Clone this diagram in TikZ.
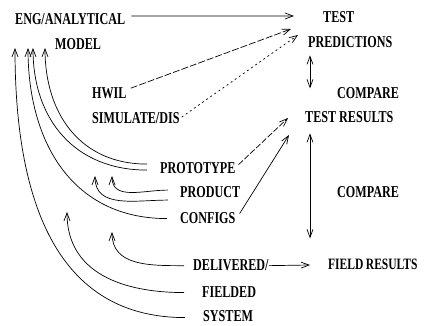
\documentclass[tikz,border=0pt]{standalone}
\usepackage{fontspec}
\setmainfont{Liberation Serif}[FakeStretch=0.73]
\usepackage{tikz}
\usetikzlibrary{arrows.meta}
\tikzstyle{arrow} = [line width=0.7pt,->,>={Straight Barb[length=8pt,width=6pt]}]
\tikzstyle{curvearrow} = [arrow, out=180, in=-90, looseness=1.1]
\tikzstyle{lbl} = [inner sep=0pt, anchor=base west, font=\fontsize{16.6}{18}\selectfont\bfseries]

\begin{document}
\begin{tikzpicture}[x=1pt,y=1pt]
\useasboundingbox (0,0) rectangle (424,326);

% Model and prediction side
\node[lbl] at (15,301) (eng) {ENG/ANALYTICAL};
\node[lbl] at (55,276) (model) {MODEL};
\node[lbl] at (323,303) (test) {TEST};
\node[lbl] at (308,278) (pred) {PREDICTIONS};
\node[lbl] at (92,227) (hwil) {HWIL};
\node[lbl] at (92,202) (sim) {SIMULATE/DIS};
\node[lbl] at (337,227) (cmpA) {COMPARE};
\node[lbl] at (305,203) (res) {TEST RESULTS};

% Hardware side
\node[lbl] at (160,152) (proto) {PROTOTYPE};
\node[lbl] at (180,128) (prod) {PRODUCT};
\node[lbl] at (180,102) (conf) {CONFIGS};
\node[lbl] at (337,128) (cmpB) {COMPARE};
\node[lbl] at (193,55) (deliv) {DELIVERED/};
\node[lbl, font=\fontsize{15.8}{18}\selectfont\bfseries] at (328,56) (field) {FIELD\hspace{2.5pt}RESULTS};
\node[lbl] at (202,28) (fielded) {FIELDED};
\node[lbl] at (203,4) (system) {SYSTEM};

% Arrow ends
\coordinate (tSys) at (15,278);
\coordinate (tConf) at (28,278);
\coordinate (tProA) at (33,278);
\coordinate (tProB) at (45,278);
\coordinate (tProdA) at (95,150);
\coordinate (tProdB) at (112,150);
\coordinate (tFld) at (67,114);
\coordinate (tDel) at (112,94);
\coordinate (pA) at (294,310);
\coordinate (pB) at (291,297);
\coordinate (pC) at (298,291);
\coordinate (pD) at (288,208);
\coordinate (pE) at (289,191);
\coordinate (pF) at (310,61);

% Straight arrows
\draw[arrow] ([xshift=6pt,yshift=3.5pt]eng.east) -- (pA);
\draw[arrow, dash pattern=on 7pt off 2pt] ([xshift=4pt,yshift=5.5pt]hwil.east) -- (pB);
\draw[arrow, dash pattern=on 2pt off 3pt] ([xshift=2pt,yshift=1.5pt]sim.east) -- (pC);
\draw[arrow, dash pattern=on 6pt off 2pt] ([xshift=3pt,yshift=4pt]proto.east) -- (pD);
\draw[arrow] ([xshift=4pt,yshift=5pt]conf.east) -- (pE);
\draw[arrow] (deliv.east) -- (pF);

% Compare arrows
\draw[arrow,<->] ([xshift=2pt,yshift=-7pt]pred.south west) -- ([xshift=2pt,yshift=-40pt]pred.south west);
\draw[arrow,<->] ([xshift=5pt,yshift=-10pt]res.south west) -- ([xshift=5pt,yshift=-115pt]res.south west);

% Feedback curves
\draw[curvearrow] ([xshift=-18pt,yshift=-1pt]system.west) to (tSys);
\draw[curvearrow] ([xshift=-13pt]conf.west) to (tConf);
\draw[curvearrow] ([xshift=-13pt,yshift=-1.5pt]proto.west) to (tProA);
\draw[curvearrow] ([xshift=-13pt,yshift=4.5pt]proto.west) to (tProB);
\draw[curvearrow] ([xshift=-12pt,yshift=-7.5pt]prod.west) to (tProdA);
\draw[curvearrow] ([xshift=-12pt,yshift=2.5pt]prod.west) to (tProdB);
\draw[curvearrow] ([xshift=-18pt]fielded.west) to (tFld);
\draw[curvearrow] ([xshift=-9pt]deliv.west) to (tDel);
\end{tikzpicture}
\end{document}
